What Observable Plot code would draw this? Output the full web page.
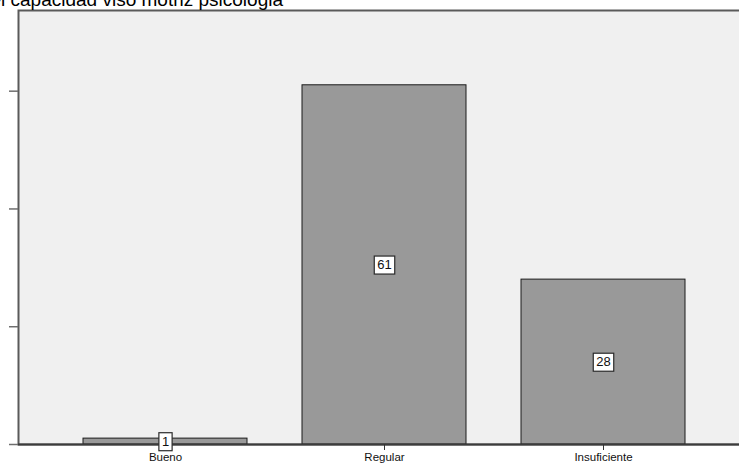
<!DOCTYPE html>
<html>
<head>
<meta charset="utf-8">
<script src="https://cdn.jsdelivr.net/npm/d3@7"></script>
<script src="https://cdn.jsdelivr.net/npm/@observablehq/plot@0.6"></script>
<style>
  html, body { margin: 0; padding: 0; background: #ffffff; }
  #wrap { position: relative; width: 739px; height: 466px; overflow: hidden; }
  #title { position: absolute; left: 0; top: 0; overflow: visible; }
  #title text { font-family: "Liberation Sans", Arial, sans-serif; font-size: 19px; fill: #000; }
  #chart { position: absolute; left: 0; top: 0; width: 751px; }
  #chart svg { max-width: none !important; }
</style>
</head>
<body>
<div id="wrap">
  <div id="chart"></div>
  <svg id="title" width="739" height="12"><text x="283" y="6" text-anchor="end">Nivel capacidad viso motriz psicologia</text></svg>
</div>
<script>
// Frequency of each level
const categories = ["Bueno", "Regular", "Insuficiente"];
const counts = [1, 61, 28];
const yTicks = [0, 20, 40, 60];

const data = categories.map((c, i) => ({ nivel: c, n: counts[i] }));

const font = "Liberation Sans, Arial, sans-serif";

const chart = Plot.plot({
  width: 751,
  height: 466,
  marginLeft: 18,
  marginRight: 1,
  marginTop: 10,
  marginBottom: 22,
  style: { fontFamily: font, background: "transparent", overflow: "visible", maxWidth: "none" },
  x: { domain: categories, paddingInner: 0.25, paddingOuter: 0.29, label: null },
  y: { domain: [0, 73.7], label: null },
  marks: [
    Plot.frame({ fill: "#f0f0f0", stroke: "#5a5a5a", strokeWidth: 2 }),
    Plot.barY(data, { x: "nivel", y: "n", fill: "#999999", stroke: "#1a1a1a", strokeWidth: 1 }),
    Plot.ruleY([0], { stroke: "#3c3c3c", strokeWidth: 2 }),
    Plot.axisY({ ticks: yTicks, tickSize: 9, tickFormat: () => "", stroke: "#6e6e6e", strokeWidth: 1.5 }),
    Plot.axisX({ tickSize: 6, tickPadding: 2, fontSize: 11.5, stroke: "#333", fill: "#111" }),
    Plot.text(data, {
      x: "nivel",
      y: d => d.n / 2,
      text: d => String(d.n),
      fontSize: 13,
      fill: "#111",
      className: "valuelabel"
    })
  ]
});

document.getElementById("chart").appendChild(chart);

// White boxed value labels: a rectangle behind each count text
d3.select(chart).selectAll(".valuelabel text").each(function () {
  const b = this.getBBox();
  const padX = 3, padY = 2;
  d3.select(this.parentNode)
    .insert("rect", () => this)
    .attr("x", b.x - padX)
    .attr("y", b.y - padY + 1)
    .attr("width", b.width + padX * 2)
    .attr("height", b.height + padY * 2 - 1)
    .attr("transform", this.getAttribute("transform"))
    .attr("fill", "#ffffff")
    .attr("stroke", "#2a2a2a")
    .attr("stroke-width", 1.2);
});
</script>
</body>
</html>
